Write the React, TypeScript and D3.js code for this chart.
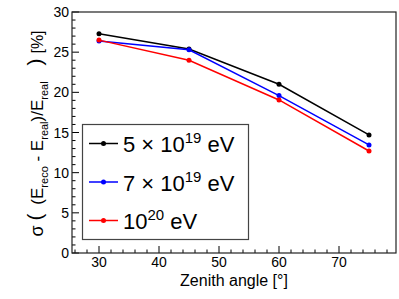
import * as d3 from "d3";
import { useEffect, useRef } from "react";

const angles = [30, 45, 60, 75];
const black5e19 = [27.3, 25.4, 21.0, 14.7];
const blue7e19 = [26.4, 25.3, 19.6, 13.45];
const red1e20 = [26.5, 24.0, 19.05, 12.7];

const seriesColors = ["#000000", "#0000ff", "#ff0000"];
const seriesValues = [black5e19, blue7e19, red1e20];
const legendLabels = [["5 \u00d7 10", "19"], ["7 \u00d7 10", "19"], ["10", "20"]];

const xTicks = [30, 40, 50, 60, 70];
const yTicks = [0, 5, 10, 15, 20, 25, 30];

const W = 399;
const H = 299;
const font = "'Liberation Sans', Arial, Helvetica, sans-serif";

const App = () => {
  const ref = useRef<SVGSVGElement>(null);

  useEffect(() => {
    const svg = d3.select(ref.current);
    svg.selectAll("*").remove();

    // рамка графика
    const left = 72, right = 396, top = 12, bottom = 253;
    const x = d3.scaleLinear().domain([25.5, 79.5]).range([left, right]);
    const y = d3.scaleLinear().domain([0, 30]).range([bottom, top]);

    svg.append("rect").attr("width", W).attr("height", H).attr("fill", "#fff");

    // деления
    const xMinor = d3.range(26, 80, 2);
    const yMinor = d3.range(0, 31, 1);
    svg.append("g").selectAll("line").data(xMinor).enter().append("line")
      .attr("x1", d => x(d)).attr("x2", d => x(d))
      .attr("y1", bottom).attr("y2", d => bottom - (d % 10 === 0 ? 7 : 3.5))
      .attr("stroke", "#000").attr("stroke-width", 1);
    svg.append("g").selectAll("line").data(yMinor).enter().append("line")
      .attr("y1", d => y(d)).attr("y2", d => y(d))
      .attr("x1", left).attr("x2", d => left + (d % 5 === 0 ? 7 : 3.5))
      .attr("stroke", "#000").attr("stroke-width", 1);

    svg.append("g").selectAll("text").data(xTicks).enter().append("text")
      .attr("x", d => x(d)).attr("y", 267)
      .attr("text-anchor", "middle")
      .style("font-family", font).style("font-size", "14px")
      .text(d => d);
    svg.append("g").selectAll("text").data(yTicks).enter().append("text")
      .attr("x", 69).attr("y", d => y(d) + 5)
      .attr("text-anchor", "end")
      .style("font-family", font).style("font-size", "14px")
      .text(d => d);

    // линии серий
    const line = d3.line<number>().x((d, i) => x(angles[i])).y(d => y(d));
    seriesValues.forEach((vals, k) => {
      svg.append("path").datum(vals).attr("d", line)
        .attr("fill", "none").attr("stroke", seriesColors[k]).attr("stroke-width", 1.5);
      svg.append("g").selectAll("circle").data(vals).enter().append("circle")
        .attr("cx", (d, i) => x(angles[i])).attr("cy", d => y(d))
        .attr("r", 2.5).attr("fill", seriesColors[k]);
    });

    svg.append("rect")
      .attr("x", left).attr("y", top).attr("width", right - left).attr("height", bottom - top)
      .attr("fill", "none").attr("stroke", "#222").attr("stroke-width", 1.2);

    // легенда
    const lg = svg.append("g");
    lg.append("rect").attr("x", 82.5).attr("y", 124.5).attr("width", 166).attr("height", 115)
      .attr("fill", "#fff").attr("stroke", "#444").attr("stroke-width", 1.2);
    legendLabels.forEach((lab, k) => {
      const cy = 143.5 + k * 38.5;
      lg.append("line").attr("x1", 89).attr("x2", 118).attr("y1", cy).attr("y2", cy)
        .attr("stroke", seriesColors[k]).attr("stroke-width", 1.5);
      lg.append("circle").attr("cx", 103.5).attr("cy", cy).attr("r", 2.5).attr("fill", seriesColors[k]);
      const t = lg.append("text").attr("x", 123).attr("y", cy + 8.5)
        .style("font-family", font).style("font-size", "22px");
      t.append("tspan").text(lab[0]);
      t.append("tspan").attr("dy", -9).style("font-size", "15px").text(lab[1]);
      t.append("tspan").attr("dy", 9).text(" eV");
    });

    // подписи осей
    svg.append("text").attr("x", 234).attr("y", 286).attr("text-anchor", "middle")
      .style("font-family", font).style("font-size", "16px")
      .text("Zenith angle [\u00b0]");

    // заголовок оси Y: куски по отдельности
    const yg = svg.append("g").attr("transform", "translate(43,0) rotate(-90)")
      .style("font-family", font);
    const piece = (pos: number, size: number, txt: string) =>
      yg.append("text").attr("x", -pos).attr("text-anchor", "middle")
        .style("font-size", size + "px").text(txt);
    piece(231, 18, "\u03c3");
    piece(42, 16, "[%]");
    yg.append("text").attr("x", -217).attr("y", -7).attr("text-anchor", "middle")
      .style("font-size", "21px").attr("dominant-baseline", "middle").text("(");
    yg.append("text").attr("x", -62).attr("y", -7).attr("text-anchor", "middle")
      .style("font-size", "21px").attr("dominant-baseline", "middle").text(")");
    const inner = yg.append("text").attr("x", -143).attr("text-anchor", "middle")
      .style("font-size", "17px");
    inner.append("tspan").text("(E");
    inner.append("tspan").style("font-size", "11px").attr("dy", 5).text("reco");
    inner.append("tspan").attr("dy", -5).text(" - E");
    inner.append("tspan").style("font-size", "11px").attr("dy", 5).text("real");
    inner.append("tspan").attr("dy", -5).text(")/E");
    inner.append("tspan").style("font-size", "11px").attr("dy", 5).text("real");
  }, []);

  return <svg ref={ref} width={W} height={H} style={{ display: "block", position: "absolute", left: 0, top: 0 }} />;
};

export default App;
